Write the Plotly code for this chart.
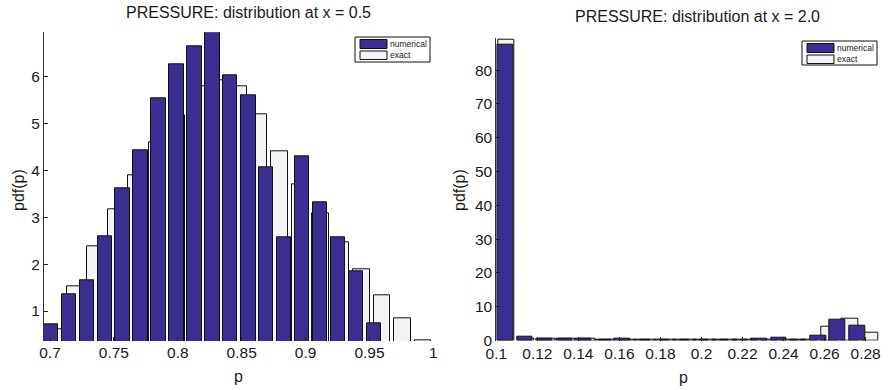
import plotly.graph_objects as go

# ---------------- data ----------------
# Left panel: x = 0.5
left_num_p = [0.7006, 0.7147, 0.7287, 0.7428, 0.7568, 0.7709, 0.7849, 0.7990, 0.8130, 0.8271,
              0.8411, 0.8552, 0.8692, 0.8833, 0.8973, 0.9114, 0.9254, 0.9395, 0.9535]
left_num_pdf = [0.72, 1.36, 1.66, 2.60, 3.62, 4.43, 5.54, 6.27, 6.65, 6.94,
                6.02, 5.60, 4.06, 2.57, 4.31, 3.32, 2.58, 1.85, 0.74]
left_exact_p = [0.7034, 0.7195, 0.7355, 0.7515, 0.7675, 0.7835, 0.7995, 0.8155, 0.8316, 0.8476,
                0.8636, 0.8796, 0.8956, 0.9116, 0.9276, 0.9437, 0.9597, 0.9757, 0.9917]
left_exact_pdf = [0.62, 1.52, 2.38, 3.17, 3.89, 4.59, 5.18, 5.80, 5.92, 5.80,
                  5.19, 4.41, 3.71, 3.08, 2.47, 1.89, 1.33, 0.85, 0.37]
left_num_binw = 0.01405
left_exact_binw = 0.01602

# Right panel: x = 2.0
right_num_p = [0.1044, 0.1139, 0.1234, 0.1330, 0.1425, 0.1520, 0.1615, 0.1711, 0.1806, 0.1901,
               0.1996, 0.2092, 0.2187, 0.2282, 0.2377, 0.2473, 0.2568, 0.2663, 0.2758]
right_num_pdf = [87.6, 1.2, 0.5, 0.5, 0.5, 0.3, 0.4, 0.1, 0.1, 0.1,
                 0.1, 0.1, 0.3, 0.4, 0.7, 0.1, 1.3, 6.1, 4.5]
right_exact_p = [0.1050, 0.1148, 0.1247, 0.1345, 0.1444, 0.1542, 0.1641, 0.1739, 0.1837, 0.1936,
                 0.2034, 0.2133, 0.2231, 0.2330, 0.2428, 0.2526, 0.2625, 0.2723, 0.2822]
right_exact_pdf = [88.9, 0.6, 0.4, 0.4, 0.4, 0.3, 0.3, 0.2, 0.2, 0.2,
                   0.2, 0.2, 0.3, 0.3, 0.3, 0.1, 4.0, 6.6, 2.2]
right_num_binw = 0.009525
right_exact_binw = 0.009842

left_xticks = [0.7, 0.75, 0.8, 0.85, 0.9, 0.95, 1.0]
left_xticktext = ["0.7", "0.75", "0.8", "0.85", "0.9", "0.95", "1"]
left_yticks = [1, 2, 3, 4, 5, 6]
right_xticks = [0.1, 0.12, 0.14, 0.16, 0.18, 0.2, 0.22, 0.24, 0.26, 0.28]
right_xticktext = ["0.1", "0.12", "0.14", "0.16", "0.18", "0.2", "0.22", "0.24", "0.26", "0.28"]
right_yticks = [0, 10, 20, 30, 40, 50, 60, 70, 80]

titles = ["PRESSURE: distribution at x = 0.5", "PRESSURE: distribution at x = 2.0"]
series_names = ["numerical", "exact"]

# ---------------- style ----------------
W, H = 889, 390
FONT = "Liberation Sans, Arial, Helvetica, sans-serif"
BLUE = "#3b2e93"
EXACT = "#f3f3f3"
EDGE = "#111111"
BAR_FRAC = 0.8


def fx(px):
    return px / W


def fy(py):
    return 1 - py / H


fig = go.Figure()

# exact bars drawn first (behind), numerical on top
fig.add_trace(go.Bar(x=left_exact_p, y=left_exact_pdf, width=left_exact_binw * BAR_FRAC,
                     marker=dict(color=EXACT, line=dict(color=EDGE, width=1)),
                     name=series_names[1], xaxis="x", yaxis="y", showlegend=False))
fig.add_trace(go.Bar(x=left_num_p, y=left_num_pdf, width=left_num_binw * BAR_FRAC,
                     marker=dict(color=BLUE, line=dict(color=EDGE, width=1)),
                     name=series_names[0], xaxis="x", yaxis="y", showlegend=False))
fig.add_trace(go.Bar(x=right_exact_p, y=right_exact_pdf, width=right_exact_binw * BAR_FRAC,
                     marker=dict(color=EXACT, line=dict(color=EDGE, width=1)),
                     name=series_names[1], xaxis="x2", yaxis="y2", showlegend=False))
fig.add_trace(go.Bar(x=right_num_p, y=right_num_pdf, width=right_num_binw * BAR_FRAC,
                     marker=dict(color=BLUE, line=dict(color=EDGE, width=1)),
                     name=series_names[0], xaxis="x2", yaxis="y2", showlegend=False))

tickfont = dict(family=FONT, size=15.5, color="#1a1a1a")
common_x = dict(showgrid=False, zeroline=False, showline=False, ticks="inside", ticklen=4,
                tickcolor="#222", tickfont=tickfont, automargin=False)
common_y = dict(showgrid=False, zeroline=False, showline=True, linecolor="#333", linewidth=1,
                ticks="inside", ticklen=4, tickcolor="#222", tickfont=tickfont, automargin=False)

fig.update_layout(
    width=W, height=H,
    margin=dict(l=0, r=0, t=0, b=0, autoexpand=False),
    paper_bgcolor="white", plot_bgcolor="white",
    barmode="overlay", bargap=0,
    font=dict(family=FONT, color="#1a1a1a"),
    xaxis=dict(domain=[fx(44), fx(434)], range=[0.6953, 1.0005], anchor="y",
               tickmode="array", tickvals=left_xticks, ticktext=left_xticktext, **common_x),
    yaxis=dict(domain=[fy(341), fy(32.3)], range=[0.36, 6.945], anchor="x",
               tickmode="array", tickvals=left_yticks, **common_y),
    xaxis2=dict(domain=[fx(496.3), fx(880)], range=[0.1, 0.287], anchor="y2",
                tickmode="array", tickvals=right_xticks, ticktext=right_xticktext,
                ticklabelstandoff=2, **common_x),
    yaxis2=dict(domain=[fy(340.5), fy(37.7)], range=[0, 89.6], anchor="x2",
                tickmode="array", tickvals=right_yticks, **common_y),
)

ann = []
shapes = []
# titles
ann.append(dict(x=fx(248), y=fy(13), xref="paper", yref="paper", text=titles[0], showarrow=False,
                xanchor="center", yanchor="middle", font=dict(family=FONT, size=16, color="#1a1a1a")))
ann.append(dict(x=fx(697.5), y=fy(16.7), xref="paper", yref="paper", text=titles[1], showarrow=False,
                xanchor="center", yanchor="middle", font=dict(family=FONT, size=16, color="#1a1a1a")))
# axis labels
for xc, yc in [(238, 376), (683, 377)]:
    ann.append(dict(x=fx(xc), y=fy(yc), xref="paper", yref="paper", text="p", showarrow=False,
                    xanchor="center", yanchor="middle", font=dict(family=FONT, size=16, color="#1a1a1a")))
for xc, yc in [(18, 190), (459, 190)]:
    ann.append(dict(x=fx(xc), y=fy(yc), xref="paper", yref="paper", text="pdf(p)", showarrow=False,
                    textangle=-90, xanchor="center", yanchor="middle",
                    font=dict(family=FONT, size=16, color="#1a1a1a")))

# legends (box + wide swatches + text), one per panel
for (bx0, by0, bx1, by1) in [(355, 37, 430, 62), (802, 41, 877, 65)]:
    shapes.append(dict(type="rect", xref="paper", yref="paper",
                       x0=fx(bx0), x1=fx(bx1), y0=fy(by1), y1=fy(by0),
                       line=dict(color="#111", width=1), fillcolor="white", layer="above"))
    sw_x0, sw_x1 = bx0 + 5, bx0 + 32
    rows = [(by0 + 2.5, by0 + 11.5, BLUE, series_names[0]), (by0 + 14, by0 + 22.5, EXACT, series_names[1])]
    for (sy0, sy1, col, label) in rows:
        shapes.append(dict(type="rect", xref="paper", yref="paper",
                           x0=fx(sw_x0), x1=fx(sw_x1), y0=fy(sy1), y1=fy(sy0),
                           line=dict(color="#111", width=1), fillcolor=col, layer="above"))
        ann.append(dict(x=fx(sw_x1 + 0.5), y=fy((sy0 + sy1) / 2), xref="paper", yref="paper",
                        text=label, showarrow=False, xanchor="left", yanchor="middle",
                        font=dict(family=FONT, size=8.5, color="#1a1a1a")))

fig.update_layout(annotations=ann, shapes=shapes)

fig.write_html("out.html", config={"displayModeBar": False},
               post_script="document.body.style.margin='0px';document.body.style.overflow='hidden';")
